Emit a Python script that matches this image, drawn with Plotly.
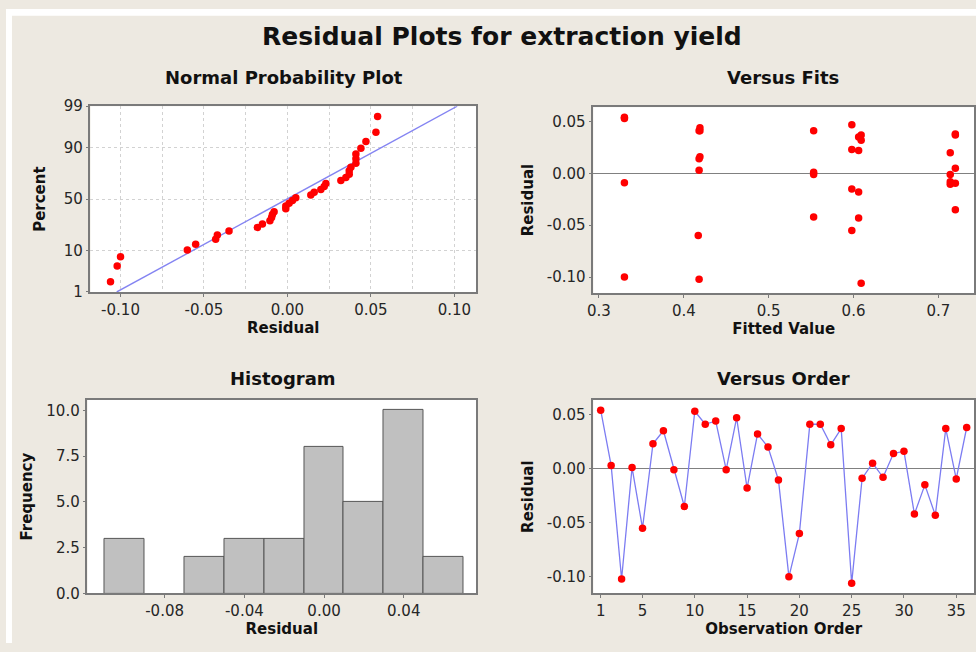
import plotly.graph_objects as go
from statistics import NormalDist
import numpy as np

# ---- data ----
observation_order = list(range(1, 37))
residuals = [0.054, 0.003, -0.102, 0.001, -0.055, 0.023, 0.035, -0.001, -0.035, 0.053,
             0.041, 0.044, -0.001, 0.047, -0.018, 0.032, 0.020, -0.0105, -0.100, -0.060,
             0.041, 0.041, 0.022, 0.037, -0.106, -0.009, 0.005, -0.008, 0.014, 0.016,
             -0.042, -0.015, -0.043, 0.037, -0.0095, 0.038]
fitted_values = [0.330, 0.418, 0.418, 0.553, 0.598, 0.598, 0.606, 0.714, 0.720, 0.330,
                 0.418, 0.419, 0.553, 0.598, 0.606, 0.609, 0.714, 0.714, 0.330, 0.417,
                 0.419, 0.553, 0.606, 0.609, 0.609, 0.330, 0.720, 0.714, 0.418, 0.419,
                 0.553, 0.598, 0.606, 0.720, 0.720, 0.720]
prob_ticks_pct = [1, 10, 50, 90, 99]
prob_x_ticks = [-0.10, -0.05, 0.00, 0.05, 0.10]
resid_y_ticks = [-0.10, -0.05, 0.00, 0.05]
fit_x_ticks = [0.3, 0.4, 0.5, 0.6, 0.7]
hist_x_ticks = [-0.08, -0.04, 0.00, 0.04]
hist_y_ticks = [0, 2.5, 5, 7.5, 10]
order_ticks = [1, 5, 10, 15, 20, 25, 30, 35]

W, H = 976, 652
BG = "#EDE9E1"
FRAME = "#7A7A7A"
FONT = "DejaVu Sans"
TICKC = "#262626"

nd = NormalDist()
n = len(residuals)
sorted_res = sorted(residuals)
plot_pos = [nd.inv_cdf((i + 1 - 0.3) / (n + 0.4)) for i in range(n)]
mu = float(np.mean(residuals))
sd = float(np.std(residuals, ddof=1))
z_lo, z_hi = nd.inv_cdf(0.01), nd.inv_cdf(0.99)


def lab(vals, fmt):
    return [format(v, fmt) for v in vals]  # plain hyphen minus like the reference


def px_x(a, b):
    return [a / W, b / W]


def px_y(top, bottom):
    return [1 - bottom / H, 1 - top / H]


fig = go.Figure()

# Normal probability plot
fig.add_trace(go.Scatter(x=[mu + sd * z_lo, mu + sd * z_hi], y=[z_lo, z_hi], mode="lines",
                         line=dict(color="#8484F2", width=1.4), xaxis="x", yaxis="y",
                         showlegend=False, hoverinfo="skip"))
fig.add_trace(go.Scatter(x=sorted_res, y=plot_pos, mode="markers",
                         marker=dict(color="#FF0000", size=7.5), xaxis="x", yaxis="y",
                         showlegend=False))
# Versus fits
fig.add_trace(go.Scatter(x=fitted_values, y=residuals, mode="markers",
                         marker=dict(color="#FF0000", size=7.5), xaxis="x2", yaxis="y2",
                         showlegend=False))
# Histogram
fig.add_trace(go.Histogram(x=residuals, xbins=dict(start=-0.11, end=0.07, size=0.02),
                           marker=dict(color="#C0C0C0", line=dict(color="#555555", width=1)),
                           xaxis="x3", yaxis="y3", showlegend=False))
# Versus order
fig.add_trace(go.Scatter(x=observation_order, y=residuals, mode="lines+markers",
                         line=dict(color="#7C7CF2", width=1.3),
                         marker=dict(color="#FF0000", size=7.5), xaxis="x4", yaxis="y4",
                         showlegend=False))

tickfont = dict(family=FONT, size=15, color=TICKC)
titlefont = dict(family=FONT, size=15, color="#111111", weight="bold")
common = dict(showline=True, linecolor=FRAME, linewidth=1.5, mirror=True,
              ticks="outside", ticklen=3, tickcolor=FRAME, tickfont=tickfont,
              showgrid=False, zeroline=False)
nogrid = {k: v for k, v in common.items() if k != "showgrid"}
nozero = {k: v for k, v in common.items() if k != "zeroline"}

fig.update_layout(
    width=W, height=H, margin=dict(l=0, r=0, t=0, b=0),
    paper_bgcolor=BG, plot_bgcolor="white", bargap=0,
    xaxis=dict(domain=px_x(85, 473), anchor="y", range=[-0.118, 0.113],
               tickvals=prob_x_ticks, ticktext=lab(prob_x_ticks, ".2f"),
               showgrid=True, gridcolor="#D2D2D2", griddash="dot",
               minor=dict(dtick=0.025, tick0=0, showgrid=True, gridcolor="#D2D2D2",
                          griddash="dot", ticks=""),
               title=dict(text="Residual", font=titlefont, standoff=4), **nogrid),
    yaxis=dict(domain=px_y(100, 291), anchor="x", range=[z_lo, z_hi],
               tickvals=[nd.inv_cdf(p / 100) for p in prob_ticks_pct],
               ticktext=[str(p) for p in prob_ticks_pct],
               showgrid=True, gridcolor="#D2D2D2", griddash="dot",
               title=dict(text="Percent", font=titlefont, standoff=14), **nogrid),
    xaxis2=dict(domain=px_x(591, 974), anchor="y2", range=[0.2934, 0.742],
                tickvals=fit_x_ticks, ticktext=lab(fit_x_ticks, ".1f"),
                title=dict(text="Fitted Value", font=titlefont, standoff=4), **common),
    yaxis2=dict(domain=px_y(101, 292), anchor="x2", range=[-0.1153, 0.0638],
                tickvals=resid_y_ticks, ticktext=lab(resid_y_ticks, ".2f"),
                title=dict(text="Residual", font=titlefont, standoff=10), **nozero,
                zeroline=True, zerolinecolor="#808080", zerolinewidth=1),
    xaxis3=dict(domain=px_x(82, 473), anchor="y3", range=[-0.1187, 0.0763],
                tickvals=hist_x_ticks, ticktext=lab(hist_x_ticks, ".2f"),
                title=dict(text="Residual", font=titlefont, standoff=2), **common),
    yaxis3=dict(domain=px_y(402, 601), anchor="x3", range=[0, 10.57],
                tickvals=hist_y_ticks, ticktext=lab(hist_y_ticks, ".1f"),
                title=dict(text="Frequency", font=titlefont, standoff=10), **common),
    xaxis4=dict(domain=px_x(591, 974), anchor="y4", range=[0.3, 36.7],
                tickvals=order_ticks,
                title=dict(text="Observation Order", font=titlefont, standoff=2), **common),
    yaxis4=dict(domain=px_y(402, 601), anchor="x4", range=[-0.1153, 0.0635],
                tickvals=resid_y_ticks, ticktext=lab(resid_y_ticks, ".2f"),
                title=dict(text="Residual", font=titlefont, standoff=10), **nozero,
                zeroline=True, zerolinecolor="#808080", zerolinewidth=1),
)

# white strips at the top and left edge
fig.add_shape(type="rect", xref="paper", yref="paper", x0=0, x1=1, y0=1 - 7 / H, y1=1,
              fillcolor="white", line=dict(width=0), layer="below")
fig.add_shape(type="rect", xref="paper", yref="paper", x0=0, x1=6 / W, y0=0, y1=1,
              fillcolor="white", line=dict(width=0), layer="below")

sub_font = dict(family=FONT, size=18, color="#111111", weight="bold")
for text, cx, cy in [("Normal Probability Plot", 280, 70), ("Versus Fits", 782, 70),
                     ("Histogram", 279, 380), ("Versus Order", 782, 380)]:
    fig.add_annotation(text=text, x=cx / W, y=1 - cy / H, xref="paper", yref="paper",
                       showarrow=False, font=sub_font, xanchor="center", yanchor="middle")

fig.add_annotation(text="Residual Plots for extraction yield", x=499 / W, y=1 - 28 / H,
                   xref="paper", yref="paper", showarrow=False,
                   font=dict(family=FONT, size=25, color="#111111", weight="bold"),
                   xanchor="center", yanchor="middle")

fig.write_html("out.html")
